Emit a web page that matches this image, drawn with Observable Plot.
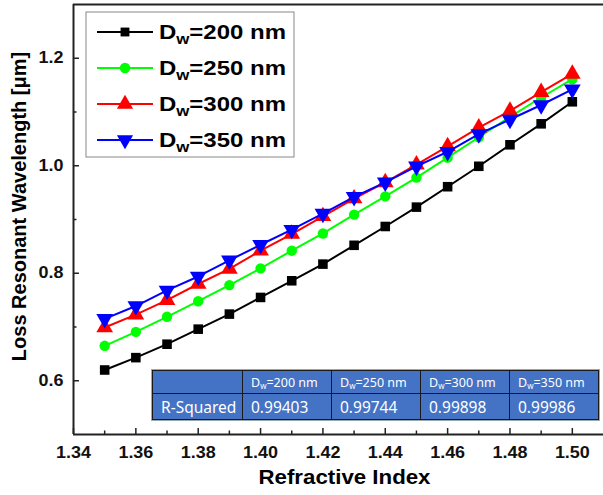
<!DOCTYPE html>
<html><head><meta charset="utf-8">
<script src="https://cdn.jsdelivr.net/npm/d3@7"></script>
<script src="https://cdn.jsdelivr.net/npm/@observablehq/plot@0.6"></script>
<style>
body{margin:0;background:#fff;}
#wrap{position:relative;width:603px;height:495px;overflow:hidden;font-family:"Liberation Sans",Arial,sans-serif;}
#overlay{position:absolute;left:0;top:0;pointer-events:none;}
#tbl{position:absolute;left:152px;top:370px;border-collapse:collapse;font-family:"Noto Sans","Open Sans",sans-serif;color:#fff;outline:1px solid #9aa;}
#tbl td{background:#4472C4;border:1px solid #1a1a1a;padding:0 0 0 8px;box-sizing:border-box;white-space:nowrap;}
#tbl tr.h td{height:23px;font-size:12.5px;}
#tbl tr.d td{height:26px;font-size:15.5px;}
#tbl sub{font-size:8px;vertical-align:-2px;}
</style></head><body><div id="wrap"></div>
<script>
const refractiveIndex = [1.35,1.36,1.37,1.38,1.39,1.40,1.41,1.42,1.43,1.44,1.45,1.46,1.47,1.48,1.49,1.50];
const dw200 = [0.620,0.643,0.668,0.696,0.724,0.755,0.786,0.817,0.852,0.887,0.923,0.961,0.999,1.039,1.078,1.119];
const dw250 = [0.665,0.691,0.719,0.748,0.778,0.809,0.842,0.874,0.909,0.943,0.978,1.015,1.053,1.091,1.127,1.161];
const dw300 = [0.699,0.723,0.750,0.780,0.808,0.842,0.873,0.906,0.939,0.969,1.002,1.036,1.071,1.102,1.137,1.171];
const dw350 = [0.715,0.739,0.768,0.794,0.824,0.853,0.881,0.911,0.942,0.969,0.999,1.026,1.059,1.086,1.113,1.142];
const seriesWidths = ["200","250","300","350"];
const seriesColors = ["#000000","#00ff00","#ff0000","#0000ff"];
const seriesSymbols = ["square","circle","triangle","triangle"];
const seriesRotate = [0,0,0,180];
const rSquared = ["0.99403","0.99744","0.99898","0.99986"];
const rowLabel = "R-Squared";
const xDomain = [1.34, 1.51];
const yDomain = [0.5, 1.3];
const xMajor = [1.34,1.36,1.38,1.40,1.42,1.44,1.46,1.48,1.50];
const xMinor = [1.35,1.37,1.39,1.41,1.43,1.45,1.47,1.49];
const yMajor = [0.6,0.8,1.0,1.2];
const yMinor = [0.7,0.9,1.1];
const xTitle = "Refractive Index";
const yTitle = "Loss Resonant Wavelength [μm]";

const W = 603, H = 495, mL = 73, mR = 0, mT = 4, mB = 61;
const frameW = W - mL - mR, frameH = H - mT - mB;
const majorLen = 6, minorLen = 3.5;

const allSeries = [dw200, dw250, dw300, dw350];
const data = allSeries.flatMap((vals, s) => vals.map((v, i) => ({n: refractiveIndex[i], v, s})));

const marks = [];
allSeries.forEach((vals, s) => {
  const d = data.filter(p => p.s === s);
  marks.push(Plot.line(d, {x: "n", y: "v", stroke: seriesColors[s], strokeWidth: 2}));
  marks.push(Plot.dot(d, {x: "n", y: "v", fill: seriesColors[s], stroke: "none",
    symbol: seriesSymbols[s], rotate: seriesRotate[s], r: seriesSymbols[s] === "circle" ? 5.2 : (seriesSymbols[s] === "square" ? 5.4 : 6.2)}));
});

const tickStyle = {stroke: "#222", strokeWidth: 1.5};
const chart = Plot.plot({
  width: W, height: H,
  marginLeft: mL, marginRight: mR, marginTop: mT, marginBottom: mB,
  x: {domain: xDomain},
  y: {domain: yDomain},
  style: {fontFamily: '"Liberation Sans", Arial, sans-serif', background: "#fff"},
  marks: [
    Plot.axisX({ticks: xMajor, tickSize: 0, tickPadding: 12, tickFormat: d => d.toFixed(2), fontSize: 16, fontWeight: "bold", label: null, fill: "#111"}),
    Plot.axisY({ticks: yMajor, tickSize: 0, tickPadding: 10, tickFormat: d => d.toFixed(1), fontSize: 16, fontWeight: "bold", label: null, fill: "#111"}),
    Plot.tickX(xMajor, {x: d => d, insetTop: frameH - majorLen, ...tickStyle}),
    Plot.tickX(xMinor, {x: d => d, insetTop: frameH - minorLen, ...tickStyle}),
    Plot.tickY(yMajor, {y: d => d, insetRight: frameW - majorLen, ...tickStyle}),
    Plot.tickY(yMinor, {y: d => d, insetRight: frameW - minorLen, ...tickStyle}),
    Plot.ruleX([xDomain[0]], {stroke: "#222", strokeWidth: 2}),
    Plot.ruleY(yDomain, {stroke: "#222", strokeWidth: 2}),
    ...marks,
    Plot.text([xTitle], {frameAnchor: "bottom", dy: 49, dx: 6, fontSize: 21, fontWeight: "bold", fill: "#000"}),
    Plot.text([yTitle], {frameAnchor: "left", textAnchor: "middle", dx: -54, dy: -13, rotate: -90, fontSize: 20, fontWeight: "bold", fill: "#000"})
  ]
});
const wrap = document.getElementById("wrap");
wrap.appendChild(chart);

// the reference's horizontal text is drawn slightly wide
const stretch = 1.12;
chart.querySelectorAll("text").forEach(t => {
  if (t.textContent === yTitle) return;
  const len = t.getComputedTextLength();
  const target = t.textContent === xTitle ? 172 : len * stretch;
  if (len > 0) { t.setAttribute("textLength", target.toFixed(1)); t.setAttribute("lengthAdjust", "spacingAndGlyphs"); }
});

// Legend overlay
const ov = d3.select(wrap).append("svg").attr("id", "overlay").attr("width", W).attr("height", H);
const lg = ov.append("g");
lg.append("rect").attr("x", 86).attr("y", 12).attr("width", 208).attr("height", 145)
  .attr("fill", "#fff").attr("stroke", "#888").attr("stroke-width", 1);
seriesWidths.forEach((w, s) => {
  const cy = 32 + s * 36;
  const g = lg.append("g");
  g.append("line").attr("x1", 97).attr("x2", 153).attr("y1", cy).attr("y2", cy)
    .attr("stroke", seriesColors[s]).attr("stroke-width", 2);
  const sym = {square: d3.symbolSquare, circle: d3.symbolCircle, triangle: d3.symbolTriangle}[seriesSymbols[s]];
  const r = seriesSymbols[s] === "circle" ? 5.2 : (seriesSymbols[s] === "square" ? 5 : 6);
  g.append("path").attr("d", d3.symbol(sym, Math.PI * r * r)())
    .attr("transform", `translate(125,${cy}) rotate(${seriesRotate[s]})`).attr("fill", seriesColors[s]);
  const t = g.append("text").attr("x", 159).attr("y", cy + 7).attr("font-size", 20).attr("font-weight", "bold")
    .attr("font-family", '"Liberation Sans", Arial, sans-serif').attr("fill", "#000");
  t.append("tspan").text("D");
  t.append("tspan").attr("font-size", 14).attr("dy", 5).text("w");
  t.append("tspan").attr("dy", -5).text(`=${w} nm`);
  t.attr("textLength", 127).attr("lengthAdjust", "spacingAndGlyphs");
});

// R-squared table
const tbl = d3.select(wrap).append("table").attr("id", "tbl");
const colW = [90, 89, 89, 89, 89];
const hr = tbl.append("tr").attr("class", "h");
hr.append("td").style("width", colW[0] + "px").text("");
seriesWidths.forEach((w, i) => {
  hr.append("td").style("width", colW[i + 1] + "px").html(`D<sub>w</sub>=${w} nm`);
});
const dr = tbl.append("tr").attr("class", "d");
dr.append("td").text(rowLabel);
rSquared.forEach(v => dr.append("td").text(v));
</script></body></html>
